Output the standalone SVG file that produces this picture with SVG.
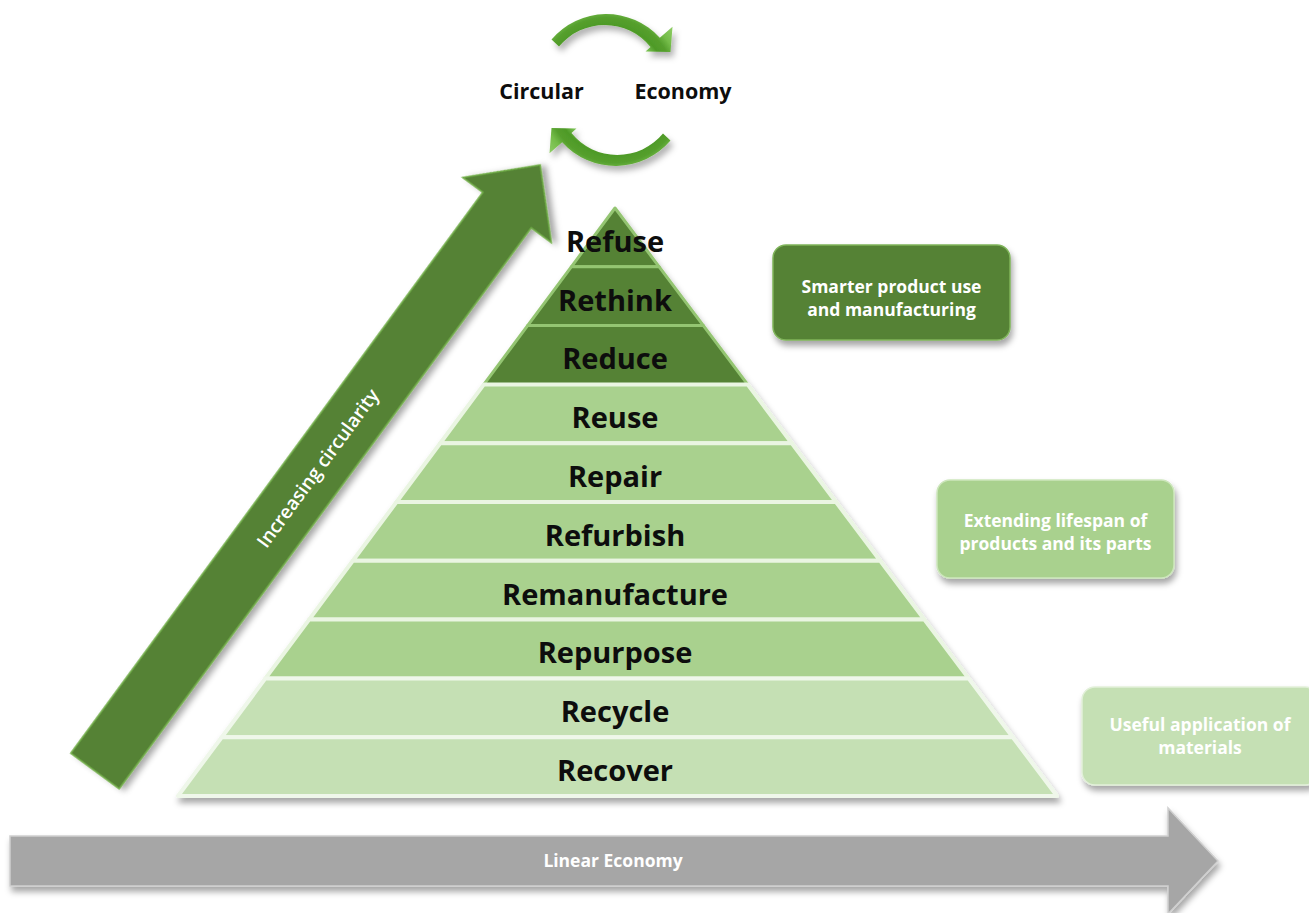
<svg xmlns="http://www.w3.org/2000/svg" width="1309" height="913" viewBox="0 0 1309 913">
  <defs>
    <style>
      .band-dark{fill:#548235;stroke:#94C572;stroke-width:3;stroke-linejoin:round}
      .band-mid{fill:#A9D18E;stroke:#EAF5E2;stroke-width:4;stroke-linejoin:round}
      .band-light{fill:#C5E0B4;stroke:#EFF7EA;stroke-width:4;stroke-linejoin:round}
      .lvl{font-family:"Open Sans","Liberation Sans",sans-serif;font-weight:700;font-size:29px;fill:#0D0D0D;text-anchor:middle}
      .note{font-family:"Open Sans","Liberation Sans",sans-serif;font-weight:700;font-size:17.5px;fill:#FFFFFF;text-anchor:middle}
      .title{font-family:"Open Sans","Liberation Sans",sans-serif;font-weight:700;font-size:21.5px;fill:#0D0D0D;text-anchor:middle}
      .axis{font-family:"Open Sans","Liberation Sans",sans-serif;font-weight:700;font-size:17.5px;fill:#FFFFFF;text-anchor:middle}
      .diag{font-family:"Open Sans","Liberation Sans",sans-serif;font-weight:600;font-size:19px;fill:#FFFFFF;text-anchor:middle}
    </style>
    <filter id="shadow" x="-10%" y="-20%" width="130%" height="150%">
      <feDropShadow dx="2" dy="5" stdDeviation="3" flood-color="#000" flood-opacity="0.35"/>
    </filter>
    <filter id="soft" x="-20%" y="-40%" width="150%" height="190%">
      <feDropShadow dx="3" dy="5" stdDeviation="3" flood-color="#000" flood-opacity="0.3"/>
    </filter>
    <radialGradient id="ringGrad" gradientUnits="userSpaceOnUse" cx="607" cy="86" r="88">
      <stop offset="0.6" stop-color="#80C658"/>
      <stop offset="0.69" stop-color="#4E9A27"/>
      <stop offset="0.78" stop-color="#559F2D"/>
      <stop offset="0.86" stop-color="#74BC49"/>
      <stop offset="1" stop-color="#8FCD66"/>
    </radialGradient>
    <!-- one curved arrow; the second is the same shape turned half a circle -->
    <path id="curvedArrow" d="M551.5,39.5 A72,72 0 0 1 659.8,37.8 L672.5,26.8 L670.5,52 L645.5,51.5 L650.5,47 A59,59 0 0 0 559,46.5 Z"/>
  </defs>

  <!-- circular economy emblem -->
  <g id="circular-economy">
    <g filter="url(#soft)" fill="url(#ringGrad)">
      <use href="#curvedArrow"/>
      <use href="#curvedArrow" transform="rotate(180 611 90)"/>
    </g>
    <text class="title" x="541.5" y="99">Circular</text>
    <text class="title" x="683" y="99">Economy</text>
  </g>

  <!-- increasing circularity arrow -->
  <g id="increasing-circularity" transform="translate(95,771) rotate(-53.7)">
    <path d="M0,-30 H696 V-55 L752,0 L696,55 V30 H0 Z" fill="#548235" stroke="#70AD47" stroke-width="1.5" filter="url(#shadow)"/>
    <text class="diag" x="376" y="7">Increasing circularity</text>
  </g>

  <!-- linear economy arrow -->
  <g id="linear-economy">
    <path d="M10,836 H1168 V808 L1218,861 L1168,914 V886 H10 Z" fill="#A6A6A6" stroke="#D0D0D0" stroke-width="1.5" filter="url(#shadow)"/>
    <text class="axis" x="613" y="867">Linear Economy</text>
  </g>

  <!-- hierarchy pyramid -->
  <g id="pyramid" filter="url(#shadow)">
    <g id="refuse"><polygon class="band-dark" points="615,208 659.2,266.8 571.3,266.8"/></g>
    <g id="rethink"><polygon class="band-dark" points="571.3,266.8 659.2,266.8 703.4,325.6 527.6,325.6"/></g>
    <g id="reduce"><polygon class="band-dark" points="527.6,325.6 703.4,325.6 747.6,384.4 483.9,384.4"/></g>
    <g id="reuse"><polygon class="band-mid" points="483.9,384.4 747.6,384.4 791.8,443.2 440.2,443.2"/></g>
    <g id="repair"><polygon class="band-mid" points="440.2,443.2 791.8,443.2 836,502 396.5,502"/></g>
    <g id="refurbish"><polygon class="band-mid" points="396.5,502 836,502 880.2,560.8 352.8,560.8"/></g>
    <g id="remanufacture"><polygon class="band-mid" points="352.8,560.8 880.2,560.8 924.4,619.6 309.1,619.6"/></g>
    <g id="repurpose"><polygon class="band-mid" points="309.1,619.6 924.4,619.6 968.6,678.4 265.4,678.4"/></g>
    <g id="recycle"><polygon class="band-light" points="265.4,678.4 968.6,678.4 1012.8,737.2 221.7,737.2"/></g>
    <g id="recover"><polygon class="band-light" points="221.7,737.2 1012.8,737.2 1057,796 178,796"/></g>
  </g>
  <g id="pyramid-labels">
    <text class="lvl" x="615" y="251.5">Refuse</text>
    <text class="lvl" x="615" y="310.5">Rethink</text>
    <text class="lvl" x="615" y="369">Reduce</text>
    <text class="lvl" x="615" y="428">Reuse</text>
    <text class="lvl" x="615" y="486.5">Repair</text>
    <text class="lvl" x="615" y="545.5">Refurbish</text>
    <text class="lvl" x="615" y="604.5">Remanufacture</text>
    <text class="lvl" x="615" y="663">Repurpose</text>
    <text class="lvl" x="615" y="722">Recycle</text>
    <text class="lvl" x="615" y="780.5">Recover</text>
  </g>

  <!-- side notes -->
  <g id="note-smarter">
    <rect x="773" y="245" width="237" height="95" rx="13" fill="#548235" stroke="#7FB45A" stroke-width="1.5" filter="url(#shadow)"/>
    <text class="note" x="891.5" y="293">Smarter product use</text>
    <text class="note" x="891.5" y="316">and manufacturing</text>
  </g>
  <g id="note-lifespan">
    <rect x="937" y="480" width="237" height="98" rx="13" fill="#A9D18E" stroke="#CDE6BC" stroke-width="1.5" filter="url(#shadow)"/>
    <text class="note" x="1055.5" y="527">Extending lifespan of</text>
    <text class="note" x="1055.5" y="550">products and its parts</text>
  </g>
  <g id="note-materials">
    <rect x="1082" y="687" width="236" height="98" rx="13" fill="#C5E0B4" stroke="#E2F0D9" stroke-width="1.5" filter="url(#shadow)"/>
    <text class="note" x="1200" y="731">Useful application of</text>
    <text class="note" x="1200" y="754">materials</text>
  </g>
</svg>
